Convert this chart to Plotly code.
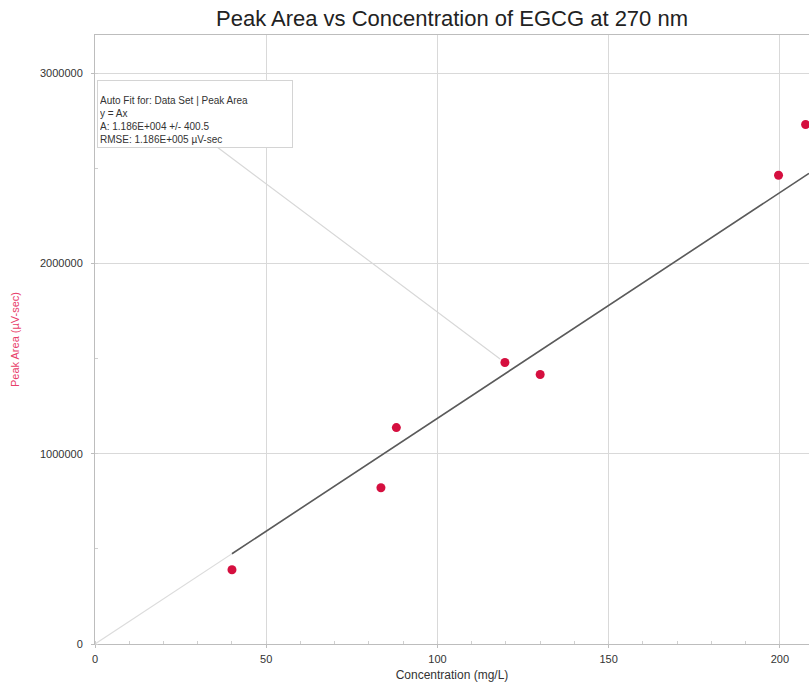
import plotly.graph_objects as go

conc = [40, 83.5, 88, 119.7, 130, 199.6, 207.5]
peak_area = [390000, 821000, 1137000, 1479000, 1416000, 2463000, 2730000]
fit_A = 11860
x_range = [0, 208.5]
y_range = [0, 3200000]
x_ticks = [0, 50, 100, 150, 200]
y_ticks = [0, 1000000, 2000000, 3000000]
box_lines = ["Auto Fit for: Data Set | Peak Area", "y = Ax",
             "A: 1.186E+004 +/- 400.5", "RMSE: 1.186E+005 µV-sec"]

FONT = "Liberation Sans, Arial, sans-serif"

fig = go.Figure()
fx = [x_range[0], x_range[1]]
fig.add_trace(go.Scatter(x=fx, y=[fit_A * v for v in fx], mode="lines",
                         line=dict(color="#dcdcdc", width=1.2), hoverinfo="skip", showlegend=False))
dx = [min(conc), x_range[1]]
fig.add_trace(go.Scatter(x=dx, y=[fit_A * v for v in dx], mode="lines",
                         line=dict(color="#5a5a5a", width=1.6), hoverinfo="skip", showlegend=False))
fig.add_trace(go.Scatter(x=conc, y=peak_area, mode="markers", cliponaxis=True,
                         marker=dict(color="#d50f3f", size=9), showlegend=False))

fig.add_annotation(x=conc[3], y=peak_area[3], ax=35, ay=2620000, axref="x", ayref="y",
                   xref="x", yref="y", text="", showarrow=True, arrowhead=0,
                   arrowcolor="#d8d8d8", arrowwidth=1.2, standoff=6)
fig.add_annotation(xref="paper", yref="paper", x=0.003, y=0.926, xanchor="left", yanchor="top",
                   text="<br>".join(box_lines), showarrow=False, align="left", valign="bottom",
                   width=190, height=62,
                   font=dict(family=FONT, size=10, color="#333"),
                   bgcolor="white", bordercolor="#d4d4d4", borderwidth=1, borderpad=2)
fig.add_shape(type="rect", xref="paper", yref="paper", x0=0.014, x1=0.035, y0=0.913, y1=0.921,
              fillcolor="#7a7a7a", line=dict(width=0))

fig.update_layout(
    width=809, height=688,
    margin=dict(l=95, r=0, t=35, b=44),
    paper_bgcolor="white", plot_bgcolor="white",
    title=dict(text="Peak Area vs Concentration of EGCG at 270 nm", x=0.5, xref="paper",
               y=0.985, yanchor="top",
               font=dict(family=FONT, size=22, color="#222")),
    font=dict(family=FONT, size=10, color="#333"),
)
fig.update_xaxes(range=x_range, tickvals=x_ticks, showgrid=True, gridcolor="#d9d9d9", gridwidth=1,
                 showline=True, linecolor="#bdbdbd", linewidth=1, mirror=True, zeroline=False,
                 ticks="outside", ticklen=3, tickcolor="#bdbdbd", tickfont=dict(size=11),
                 ticklabelstandoff=2,
                 minor=dict(dtick=10, ticks="inside", ticklen=3, tickcolor="#cfcfcf"),
                 title=dict(text="Concentration (mg/L)", font=dict(size=12, color="#333"), standoff=6))
fig.update_yaxes(range=y_range, tickvals=y_ticks, showgrid=True, gridcolor="#d9d9d9", gridwidth=1,
                 showline=True, linecolor="#bdbdbd", linewidth=1, mirror=True, zeroline=False,
                 ticks="outside", ticklen=3, tickcolor="#bdbdbd", tickformat="d", tickfont=dict(size=11),
                 ticklabelstandoff=6,
                 minor=dict(dtick=500000, ticks="inside", ticklen=3, tickcolor="#cfcfcf"),
                 title=dict(text="Peak Area (µV-sec)", font=dict(size=11, color="#e8406a"), standoff=18))

fig.write_html("out.html", config={"displayModeBar": False},
               post_script="document.body.style.margin='0';document.body.style.overflow='hidden';")
